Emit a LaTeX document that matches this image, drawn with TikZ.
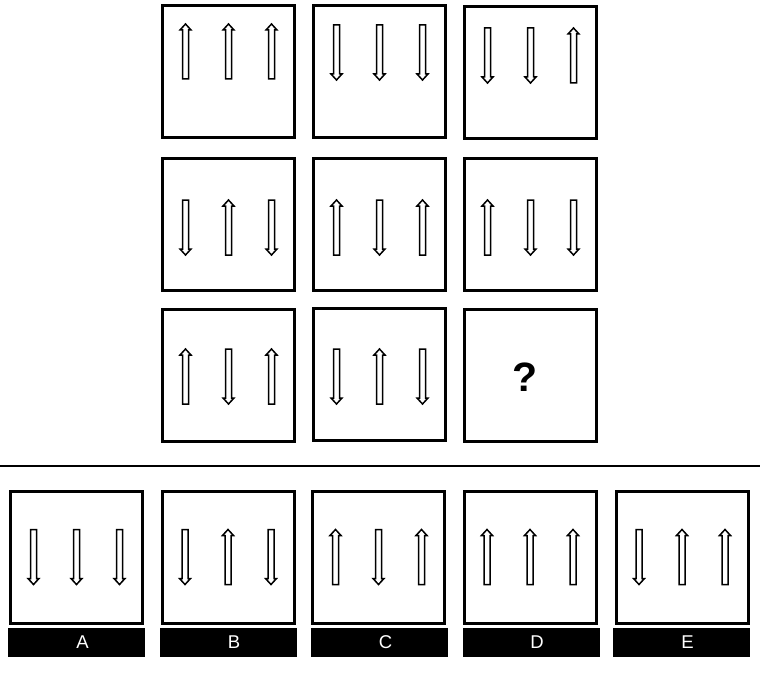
\documentclass[tikz,border=0pt]{standalone}
\usepackage{fontspec}
\setmainfont{Liberation Sans}
\begin{document}
\begin{tikzpicture}[x=1pt,y=-1pt]
	\tikzset{cell/.style={draw,line width=3pt,minimum width=132pt,minimum height=132pt,inner sep=0pt},
		tag/.style={fill=black,minimum width=137pt,minimum height=29pt,inner sep=0pt},
		flow/.style={draw,line width=1.5pt,fill=white,line join=miter}}
	\def\l{27.5}
	\useasboundingbox (0,0) rectangle (760,674);
	\foreach \n/\x/\y/\d/\p/\q/\r in {c1/228.5/72/-20.5/1/1/1,c2/379.5/72/-19.5/-1/-1/-1,c3/530.5/73/-17.5/-1/-1/1,
		c4/228.5/224/3.5/-1/1/-1,c5/379.5/224/3.5/1/-1/1,c6/530.5/224.5/3/1/-1/-1,
		c7/228.5/375/1.5/1/-1/1,c8/379.5/374/2.5/-1/1/-1,
		oA/76.5/557/0/-1/-1/-1,oB/228/557/0/-1/1/-1,oC/378.5/557/0/1/-1/1,oD/530/557/0/1/1/1,oE/682/557/0/-1/1/1}{
		\node[cell] (\n) at (\x,\y) {};
		\foreach \u/\s in {-43/\p,0/\q,43/\r}
			\draw[flow,shift={(\x+\u,\y+\d)},yscale=\s] (0,-\l) -- (5.5,-\l+6) -- (3,-\l+6) -- (3,\l) -- (-3,\l) -- (-3,-\l+6) -- (-5.5,-\l+6) -- cycle;
	}
	\node[cell] (c9) at (530.5,375) {};
	\node[font=\bfseries\fontsize{41}{41}\selectfont,inner sep=0pt] (q) at (525,377) {?};
	% answer letters
	\foreach \t/\x in {A/76.5,B/228,C/379.5,D/531,E/681.5}
		\node[tag,label={[text=white,font=\fontsize{18.5}{18.5}\selectfont,xshift=6pt]center:\t}] (t\t) at (\x,642.5) {};
	\coordinate (sl) at (0,466);
	\coordinate (sr) at (760,466);
	\draw[line width=1.8pt] (sl) -- (sr);
\end{tikzpicture}
\end{document}
